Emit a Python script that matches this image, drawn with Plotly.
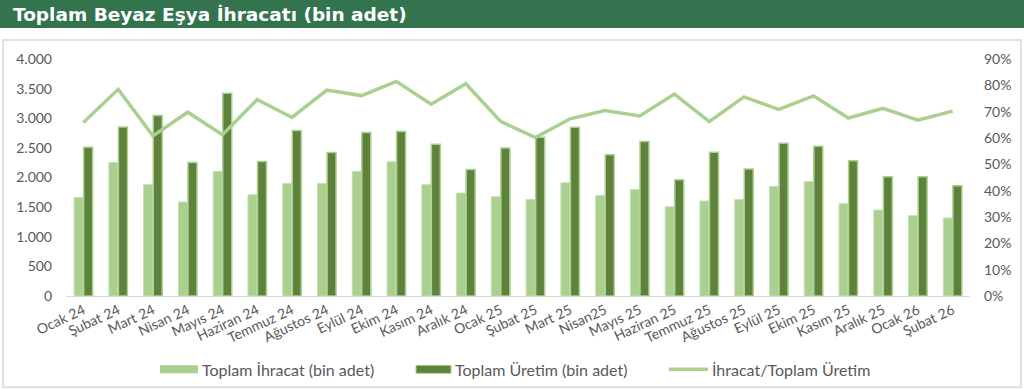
import plotly.graph_objects as go

categories = ["Ocak 24", "Şubat 24", "Mart 24", "Nisan 24", "Mayıs 24", "Haziran 24",
              "Temmuz 24", "Ağustos 24", "Eylül 24", "Ekim 24", "Kasım 24", "Aralık 24",
              "Ocak 25", "Şubat 25", "Mart 25", "Nisan25", "Mayıs 25", "Haziran 25",
              "Temmuz 25", "Ağustos 25", "Eylül 25", "Ekim 25", "Kasım 25", "Aralık 25",
              "Ocak 26", "Şubat 26"]
export_vals = [1664, 2253, 1878, 1586, 2102, 1709, 1900, 1900, 2102, 2265, 1878, 1737,
               1676, 1630, 1911, 1698, 1799, 1507, 1603, 1630, 1849, 1933, 1558, 1451,
               1356, 1317]
production_vals = [2512, 2854, 3045, 2253, 3421, 2270, 2792, 2422, 2759, 2775, 2563, 2136,
                   2496, 2681, 2849, 2383, 2607, 1962, 2428, 2142, 2580, 2529, 2282, 2012,
                   2012, 1861]
ratio_pct = [65.9, 78.5, 60.8, 69.8, 61.2, 74.6, 67.8, 78.2, 76.1, 81.5, 72.8, 80.6,
             66.3, 60.2, 67.3, 70.4, 68.4, 76.7, 66.2, 75.6, 70.9, 76.0, 67.6, 71.3,
             66.8, 70.2]
series_names = ["Toplam İhracat (bin adet)", "Toplam Üretim (bin adet)", "İhracat/Toplam Üretim"]
title_text = "Toplam Beyaz Eşya İhracatı (bin adet)"

LIGHT = "#A9D08E"
DARK = "#5E813C"
GRAY = "#595959"
TXT_FONT = "Lato"

W, H = 1024, 390
L, R, T, B = 66, 970, 59, 296.5
pw, ph = R - L, B - T


def px(x):
    return (x - L) / pw


def py(y):
    return (B - y) / ph


fig = go.Figure()
fig.add_trace(go.Bar(x=categories, y=export_vals, name=series_names[0],
                     marker=dict(color=LIGHT, line=dict(color="#C5E0B4", width=1)),
                     showlegend=False))
fig.add_trace(go.Bar(x=categories, y=production_vals, name=series_names[1],
                     marker=dict(color=DARK, line=dict(color=LIGHT, width=1.5)),
                     showlegend=False))
fig.add_trace(go.Scatter(x=categories, y=[v / 100 for v in ratio_pct], name=series_names[2],
                         mode="lines", line=dict(color=LIGHT, width=3.5),
                         yaxis="y2", showlegend=False))

shapes = [
    # title bar
    dict(type="rect", xref="paper", yref="paper", x0=px(0), x1=px(W), y0=py(28), y1=py(0),
         fillcolor="#33744F", line=dict(width=0), layer="below"),
    # chart border
    dict(type="rect", xref="paper", yref="paper", x0=px(3), x1=px(1021), y0=py(388), y1=py(40),
         fillcolor="rgba(0,0,0,0)", line=dict(color="#D9D9D9", width=1.5), layer="below"),
    # legend icons
    dict(type="rect", xref="paper", yref="paper", x0=px(160), x1=px(198), y0=py(374), y1=py(366),
         fillcolor=LIGHT, line=dict(width=0)),
    dict(type="rect", xref="paper", yref="paper", x0=px(416), x1=px(451), y0=py(374), y1=py(366),
         fillcolor=DARK, line=dict(color=LIGHT, width=1)),
    dict(type="line", xref="paper", yref="paper", x0=px(669), x1=px(708), y0=py(370), y1=py(370),
         line=dict(color=LIGHT, width=3.5)),
]

annotations = [
    dict(text=title_text, xref="paper", yref="paper", x=px(11), y=py(14),
         xanchor="left", yanchor="middle", showarrow=False,
         font=dict(family="DejaVu Sans", size=18.5, color="white", weight="bold")),
]
for xpos, name in zip([200, 453, 710], series_names):
    annotations.append(dict(text=name, xref="paper", yref="paper", x=px(xpos), y=py(370),
                            xanchor="left", yanchor="middle", showarrow=False,
                            font=dict(family=TXT_FONT, size=16, color=GRAY)))

fig.update_layout(
    width=W, height=H,
    margin=dict(l=L, r=W - R, t=T, b=H - B),
    paper_bgcolor="white", plot_bgcolor="white",
    barmode="group", bargap=0.45, bargroupgap=0.06,
    separators=",.",
    shapes=shapes, annotations=annotations,
    font=dict(family=TXT_FONT, size=14, color=GRAY),
    xaxis=dict(showline=True, linecolor="#D9D9D9", linewidth=1, ticks="",
               tickangle=-25, tickfont=dict(family=TXT_FONT, size=14, color=GRAY),
               showgrid=False),
    yaxis=dict(range=[0, 4000], dtick=500, tickformat=",d", showgrid=False, zeroline=False,
               ticks="", ticklabelstandoff=13,
               tickfont=dict(family=TXT_FONT, size=14, color=GRAY)),
    yaxis2=dict(range=[0, 0.9], dtick=0.1, tickformat=".0%", overlaying="y", side="right",
                showgrid=False, zeroline=False, ticks="", ticklabelstandoff=13,
                tickfont=dict(family=TXT_FONT, size=14, color=GRAY)),
)

fig.write_html("out.html",
               config={"displayModeBar": False},
               post_script="document.body.style.margin='0';document.body.style.padding='0';")
